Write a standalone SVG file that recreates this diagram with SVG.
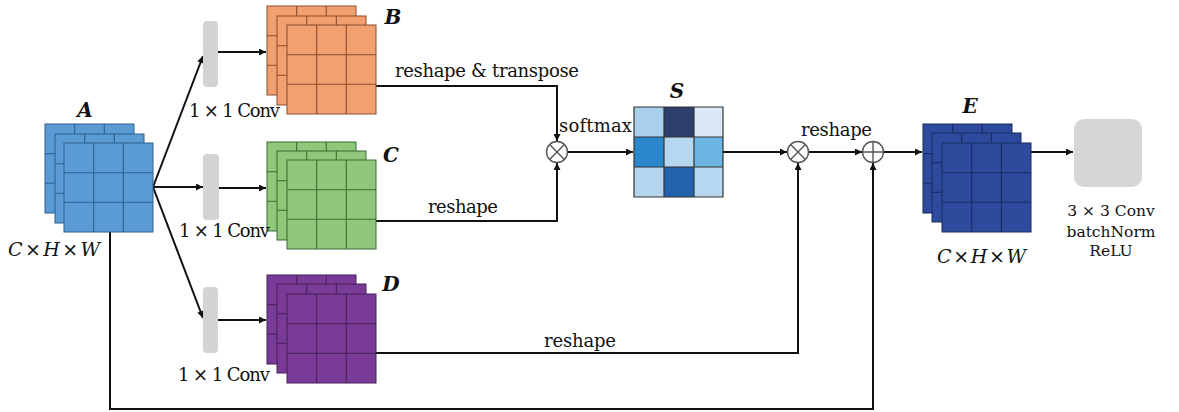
<svg xmlns="http://www.w3.org/2000/svg" xmlns:xlink="http://www.w3.org/1999/xlink" width="1179" height="412" viewBox="0 0 1179 412">
<style>
text{font-family:"DejaVu Serif","Liberation Serif",serif;fill:#111;}
.t{font-size:18px;}
.lbl{font-size:20px;font-weight:bold;font-style:italic;text-anchor:middle;}
.it{font-style:italic;}
.cw{font-size:19px;}
.ob{font-size:15.5px;text-anchor:middle;}
.ar{fill:none;stroke:#111;stroke-width:2;marker-end:url(#ah);}
.bar{fill:#d3d3d3;}
.op{fill:#fff;stroke:#555;stroke-width:1.4;}
.sq{stroke-width:1;}
.g{fill:none;stroke-width:1.1;}
.fa{fill:#5b9bd5;stroke:#2d5f8e;} .ga{stroke:#2d5f8e;}
.fb{fill:#f3a070;stroke:#8a4a2a;} .gb{stroke:#8a4a2a;}
.fc{fill:#8fc87a;stroke:#3a6b30;} .gc{stroke:#3a6b30;}
.fd{fill:#7a3a97;stroke:#45205a;} .gd{stroke:#45205a;}
.fe{fill:#2e4a9c;stroke:#172a60;} .ge{stroke:#172a60;}
.sc{stroke:#333;stroke-width:1.2;}
</style>
<defs>
<marker id="ah" viewBox="0 0 10 10" refX="10" refY="5" markerWidth="8" markerHeight="7" markerUnits="userSpaceOnUse" orient="auto">
<path d="M0,0L10,5L0,10z" fill="#111"/>
</marker>
<path id="grid" d="M29.7,0V89M59.3,0V89M0,29.7H89M0,59.3H89"/>
<rect id="sqr" width="89" height="89"/>
</defs>

<g id="connectors">
<line class="ar" x1="153" y1="187" x2="203" y2="56"/>
<line class="ar" x1="153" y1="187" x2="203" y2="187"/>
<line class="ar" x1="153" y1="187" x2="203" y2="318"/>
<line class="ar" x1="218" y1="52" x2="266" y2="52"/>
<line class="ar" x1="219" y1="188" x2="266" y2="188"/>
<line class="ar" x1="218" y1="320" x2="266" y2="320"/>
<path class="ar" d="M375,86H557V141"/>
<path class="ar" d="M375,221H557V163"/>
<path class="ar" d="M568,152H633"/>
<path class="ar" d="M723,152H787"/>
<path class="ar" d="M375,353H798V163"/>
<path class="ar" d="M809,152H862"/>
<path class="ar" d="M884,152H922"/>
<path class="ar" d="M110,232V409H873V163"/>
<path class="ar" d="M1031,152H1073"/>
</g>

<g id="nodeA">
<use href="#sqr" x="45" y="124" class="sq fa"/><use href="#grid" x="45" y="124" class="g ga"/>
<use href="#sqr" x="55" y="134" class="sq fa"/><use href="#grid" x="55" y="134" class="g ga"/>
<use href="#sqr" x="64" y="143" class="sq fa"/><use href="#grid" x="64" y="143" class="g ga"/>
<text class="lbl" x="85" y="117">A</text>
<text class="cw" x="8" y="256" textLength="92"><tspan class="it">C</tspan> × <tspan class="it">H</tspan> × <tspan class="it">W</tspan></text>
</g>

<g id="nodeB">
<use href="#sqr" x="267" y="6" class="sq fb"/><use href="#grid" x="267" y="6" class="g gb"/>
<use href="#sqr" x="277" y="16" class="sq fb"/><use href="#grid" x="277" y="16" class="g gb"/>
<use href="#sqr" x="287" y="25" class="sq fb"/><use href="#grid" x="287" y="25" class="g gb"/>
<text class="lbl" x="393" y="24">B</text>
</g>
<g id="nodeC">
<use href="#sqr" x="267" y="142" class="sq fc"/><use href="#grid" x="267" y="142" class="g gc"/>
<use href="#sqr" x="277" y="151" class="sq fc"/><use href="#grid" x="277" y="151" class="g gc"/>
<use href="#sqr" x="287" y="160" class="sq fc"/><use href="#grid" x="287" y="160" class="g gc"/>
<text class="lbl" x="391" y="162">C</text>
</g>
<g id="nodeD">
<use href="#sqr" x="267" y="275" class="sq fd"/><use href="#grid" x="267" y="275" class="g gd"/>
<use href="#sqr" x="277" y="284" class="sq fd"/><use href="#grid" x="277" y="284" class="g gd"/>
<use href="#sqr" x="287" y="294" class="sq fd"/><use href="#grid" x="287" y="294" class="g gd"/>
<text class="lbl" x="391" y="291">D</text>
</g>

<g id="conv1">
<rect class="bar" x="203" y="21" width="15" height="66" rx="4"/>
<text class="t" x="189" y="117" textLength="91">1 × 1 Conv</text>
</g>
<g id="conv2">
<rect class="bar" x="203" y="154" width="16" height="66" rx="4"/>
<text class="t" x="179" y="237" textLength="91">1 × 1 Conv</text>
</g>
<g id="conv3">
<rect class="bar" x="203" y="287" width="15" height="66" rx="4"/>
<text class="t" x="178" y="381" textLength="92">1 × 1 Conv</text>
</g>

<g id="labels">
<text class="t" x="395" y="77" textLength="184">reshape &amp; transpose</text>
<text class="t" x="428" y="213" textLength="70">reshape</text>
<text class="t" x="559" y="132" textLength="73">softmax</text>
<text class="t" x="801" y="136" textLength="71">reshape</text>
<text class="t" x="544" y="347" textLength="72">reshape</text>
</g>

<g id="mul1">
<circle class="op" cx="557" cy="152" r="10.5"/>
<path class="op" d="M549.6,144.6L564.4,159.4M564.4,144.6L549.6,159.4"/>
</g>

<g id="nodeS">
<rect x="634" y="107" width="30" height="30" fill="#a8cfec"/>
<rect x="664" y="107" width="30" height="30" fill="#2c3e6b"/>
<rect x="694" y="107" width="29" height="30" fill="#dbe9f6"/>
<rect x="634" y="137" width="30" height="30" fill="#2b87cc"/>
<rect x="664" y="137" width="30" height="30" fill="#b5d7ef"/>
<rect x="694" y="137" width="29" height="30" fill="#6cb4e2"/>
<rect x="634" y="167" width="30" height="30" fill="#b3d5ee"/>
<rect x="664" y="167" width="30" height="30" fill="#2262ad"/>
<rect x="694" y="167" width="29" height="30" fill="#b5d7ef"/>
<path class="sc" fill="none" d="M634,107H723V197H634ZM664,107V197M694,107V197M634,137H723M634,167H723"/>
<text class="lbl" x="677" y="98">S</text>
</g>

<g id="mul2">
<circle class="op" cx="798" cy="152" r="10.5"/>
<path class="op" d="M790.6,144.6L805.4,159.4M805.4,144.6L790.6,159.4"/>
</g>
<g id="add">
<circle class="op" cx="873" cy="152" r="10.5"/>
<path class="op" d="M862.5,152H883.5M873,141.5V162.5"/>
</g>

<g id="nodeE">
<use href="#sqr" x="923" y="124" class="sq fe"/><use href="#grid" x="923" y="124" class="g ge"/>
<use href="#sqr" x="932" y="133" class="sq fe"/><use href="#grid" x="932" y="133" class="g ge"/>
<use href="#sqr" x="942" y="143" class="sq fe"/><use href="#grid" x="942" y="143" class="g ge"/>
<text class="lbl" x="970" y="113">E</text>
<text class="cw" x="937" y="263" textLength="89"><tspan class="it">C</tspan> × <tspan class="it">H</tspan> × <tspan class="it">W</tspan></text>
</g>

<g id="convOut">
<rect x="1074" y="119" width="68" height="68" rx="10" fill="#d6d6d6"/>
<text class="ob" x="1111" y="216">3 × 3 Conv</text>
<text class="ob" x="1111" y="237">batchNorm</text>
<text class="ob" x="1111" y="256">ReLU</text>
</g>
</svg>
